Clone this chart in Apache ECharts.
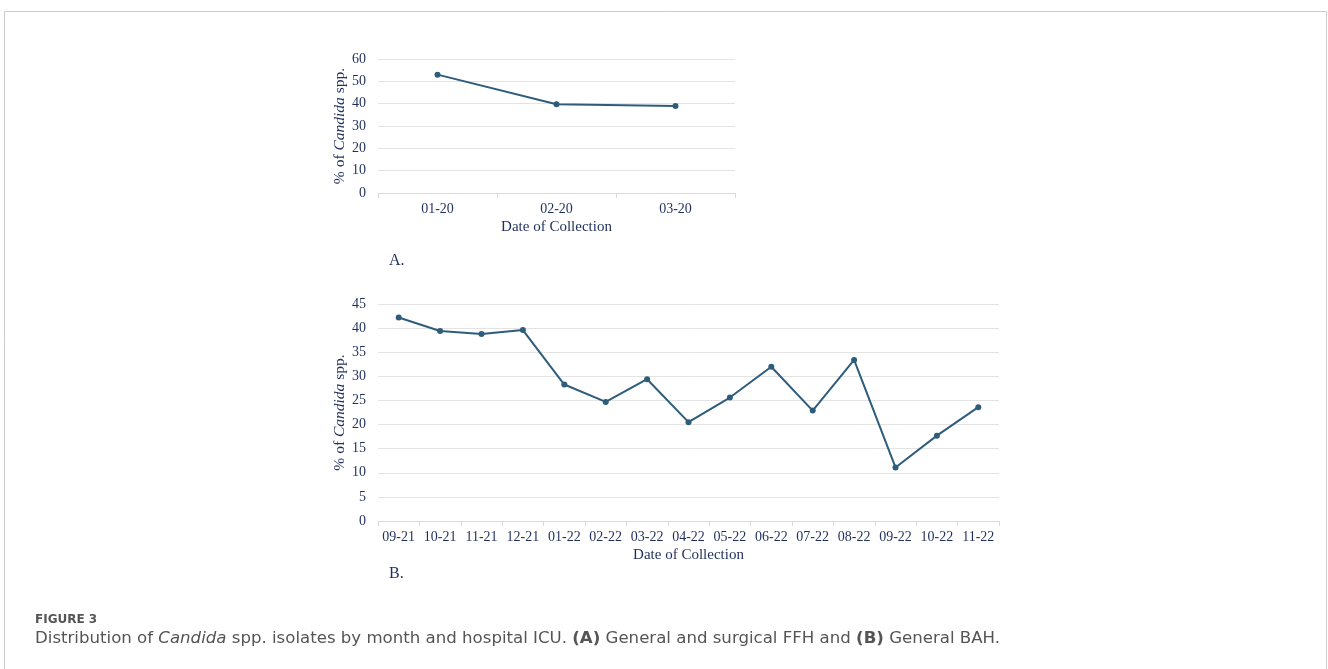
<!DOCTYPE html>
<html>
<head>
<meta charset="utf-8">
<script src="https://cdn.jsdelivr.net/npm/echarts@6/dist/echarts.min.js"></script>
<style>
html,body{margin:0;padding:0;background:#fff;}
#chart{width:1328px;height:669px;}
</style>
</head>
<body>
<div id="chart"></div>
<script>
// Panel A data
const catsA = ['01-20', '02-20', '03-20'];
const valsA = [53.0, 39.7, 39.0];
const ticksA = { min: 0, max: 60, interval: 10 };

// Panel B data
const catsB = ['09-21','10-21','11-21','12-21','01-22','02-22','03-22','04-22','05-22','06-22','07-22','08-22','09-22','10-22','11-22'];
const valsB = [42.2, 39.4, 38.8, 39.6, 28.3, 24.7, 29.4, 20.5, 25.6, 32.0, 22.9, 33.4, 11.1, 17.7, 23.6];
const ticksB = { min: 0, max: 45, interval: 5 };

const xTitle = 'Date of Collection';
const figLabel = 'FIGURE 3';

const navy = '#1f2f5c';
const lineColor = '#2e5d7c';
const serif = '"Liberation Serif", "DejaVu Serif", serif';
const sans = '"DejaVu Sans", "Open Sans", sans-serif';

const yName = '{n|% of }{i|Candida}{n| spp.}';
const yNameStyle = {
  color: navy, fontFamily: serif, fontSize: 15.5,
  rich: {
    n: { color: navy, fontFamily: serif, fontSize: 15.5 },
    i: { color: navy, fontFamily: serif, fontSize: 15.5, fontStyle: 'italic' }
  }
};

function xAxis(idx, cats) {
  return {
    type: 'category', gridIndex: idx, data: cats, boundaryGap: true,
    name: xTitle, nameLocation: 'middle', nameGap: 27,
    nameTextStyle: { color: navy, fontFamily: serif, fontSize: 15 },
    axisLine: { lineStyle: { color: '#d9d9d9', width: 1 } },
    axisTick: { show: true, interval: 0, length: 5, lineStyle: { color: '#d9d9d9' } },
    axisLabel: { color: navy, fontFamily: serif, fontSize: 14, margin: 9, interval: 0 },
    splitLine: { show: false }
  };
}
function yAxis(idx, t) {
  return {
    type: 'value', gridIndex: idx, min: t.min, max: t.max, interval: t.interval,
    name: yName, nameLocation: 'middle', nameGap: 30, nameRotate: 90,
    nameTextStyle: yNameStyle,
    axisLine: { show: false }, axisTick: { show: false },
    axisLabel: { color: navy, fontFamily: serif, fontSize: 14, margin: 12 },
    splitLine: { lineStyle: { color: '#e3e3e3', width: 1 } }
  };
}

const chart = echarts.init(document.getElementById('chart'), null, { renderer: 'canvas' });
chart.setOption({
  animation: false,
  backgroundColor: '#fff',
  grid: [
    { left: 378, top: 59, width: 357, height: 134 },
    { left: 378, top: 304, width: 621, height: 217 }
  ],
  xAxis: [xAxis(0, catsA), xAxis(1, catsB)],
  yAxis: [yAxis(0, ticksA), yAxis(1, ticksB)],
  series: [
    { type: 'line', xAxisIndex: 0, yAxisIndex: 0, data: valsA, symbol: 'circle', symbolSize: 6,
      lineStyle: { color: lineColor, width: 2 }, itemStyle: { color: lineColor } },
    { type: 'line', xAxisIndex: 1, yAxisIndex: 1, data: valsB, symbol: 'circle', symbolSize: 6,
      lineStyle: { color: lineColor, width: 2 }, itemStyle: { color: lineColor } }
  ],
  graphic: [
    { type: 'polyline', silent: true,
      shape: { points: [[4.5, 700], [4.5, 11.5], [1326.5, 11.5], [1326.5, 700]] },
      style: { stroke: '#cccccc', lineWidth: 1, fill: null } },
    { type: 'text', left: 389, top: 253, style: { text: 'A.', fill: navy, font: '16px ' + serif } },
    { type: 'text', left: 389, top: 566, style: { text: 'B.', fill: navy, font: '16px ' + serif } },
    { type: 'text', left: 35, top: 614, style: { text: figLabel, fill: '#555555', font: 'bold 12px ' + sans } },
    { type: 'text', left: 35, top: 630, style: {
        text: '{n|Distribution of }{i|Candida}{n| spp. isolates by month and hospital ICU. }{b|(A)}{n| General and surgical FFH and }{b|(B)}{n| General BAH.}',
        rich: {
          n: { fill: '#555555', fontFamily: sans, fontSize: 16.6 },
          i: { fill: '#555555', fontFamily: sans, fontSize: 16.6, fontStyle: 'italic' },
          b: { fill: '#555555', fontFamily: sans, fontSize: 16.6, fontWeight: 'bold' }
        } } }
  ]
});
</script>
</body>
</html>
